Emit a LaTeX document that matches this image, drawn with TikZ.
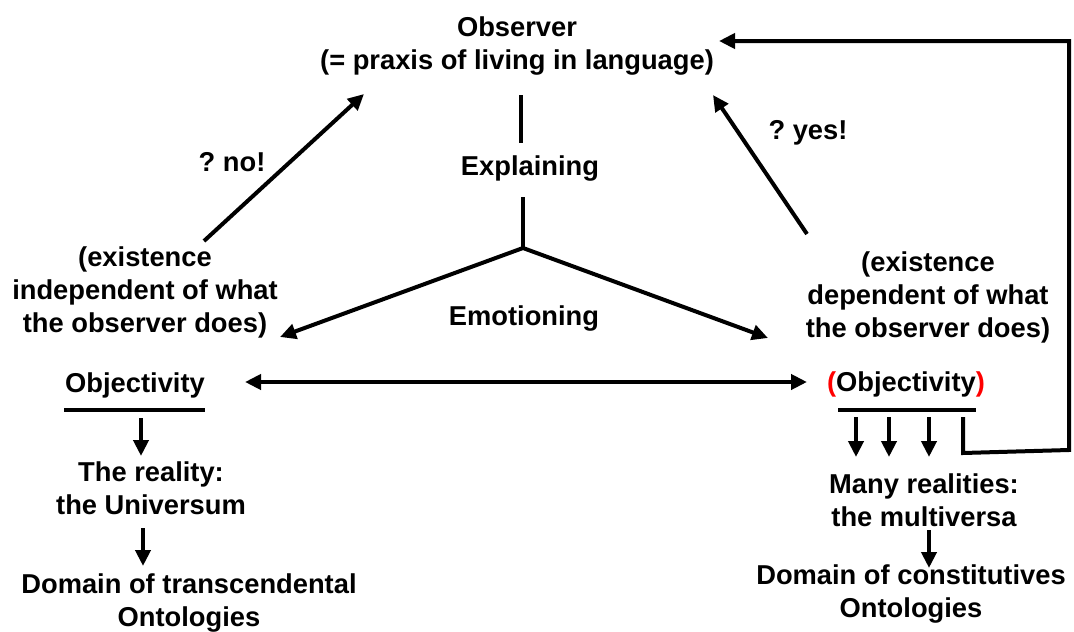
\documentclass[tikz,border=0pt]{standalone}
\usepackage{fontspec}
\setmainfont{Liberation Sans}
\usetikzlibrary{arrows.meta}
\begin{document}
\begin{tikzpicture}[x=1pt,y=-1pt,
  txt/.style={font=\fontsize{27.3}{33}\selectfont\bfseries\frenchspacing, align=center, inner sep=0pt},
  con/.style={line width=4pt, line join=miter},
  arr/.style={con, -{Triangle[length=16pt,width=15pt]}},
  darr/.style={con, {Triangle[length=16pt,width=15pt]}-{Triangle[length=16pt,width=15pt]}}]
\useasboundingbox (0,0) rectangle (1074,632);
% texts
\node[txt] (obs) at (517,46) {Observer\\(= praxis of living in language)};
\node[txt] (expl) at (530,168) {Explaining};
\node[txt] (emo) at (524,318) {Emotioning};
\node[txt] (no) at (232,162) {? no!};
\node[txt] (yes) at (808,133) {? yes!};
\node[txt] (indep) at (145,292) {(existence\\independent of what\\the observer does)};
\node[txt] (dep) at (928,297) {(existence\\dependent of what\\the observer does)};
\node[txt] (objL) at (135,385) {Objectivity};
\node[txt] (objR) at (906,384) {\textcolor{red}{(}Objectivity\textcolor{red}{)}};
\node[txt] (realL) at (151,488) {The reality:\\the Universum};
\node[txt] (domL) at (189,603) {Domain of transcendental\\Ontologies};
\node[txt] (realR) at (924,500) {Many realities:\\the multiversa};
\node[txt] (domR) at (911,594) {Domain of constitutives\\Ontologies};
% coordinates
\coordinate (e1) at (521,95);
\coordinate (e2) at (521,143);
\coordinate (e3) at (523,197);
\coordinate (fork) at (523,248);
\coordinate (tipL) at (280,337);
\coordinate (tipR) at (768,338);
\coordinate (noS) at (204,241);
\coordinate (noT) at (364,94);
\coordinate (yesS) at (807,234);
\coordinate (yesT) at (713,95);
\coordinate (dL) at (245,382);
\coordinate (dR) at (807,382);
\coordinate (uL1) at (64,410);
\coordinate (uL2) at (205,410);
\coordinate (uR1) at (838,410);
\coordinate (uR2) at (976,410);
\coordinate (loopS) at (963,417);
\coordinate (loopT) at (719,41);
% connectors
\draw[con] (e1) -- (e2);
\draw[con] (e3) -- (fork);
\draw[arr] (fork) -- (tipL);
\draw[arr] (fork) -- (tipR);
\draw[arr] (noS) -- (noT);
\draw[arr] (yesS) -- (yesT);
\draw[darr] (dL) -- (dR);
\draw[con] (uL1) -- (uL2);
\draw[con] (uR1) -- (uR2);
\draw[arr] (141,418) -- (141,456);
\draw[arr] (143,528) -- (143,566);
\draw[arr] (856,417) -- (856,457);
\draw[arr] (889,417) -- (889,457);
\draw[arr] (929,417) -- (929,457);
\draw[arr] (929,530) -- (929,568);
\draw[arr] (loopS) -- (963,453) -- (1069,450) -- (1069,41) -- (loopT);
\end{tikzpicture}
\end{document}
